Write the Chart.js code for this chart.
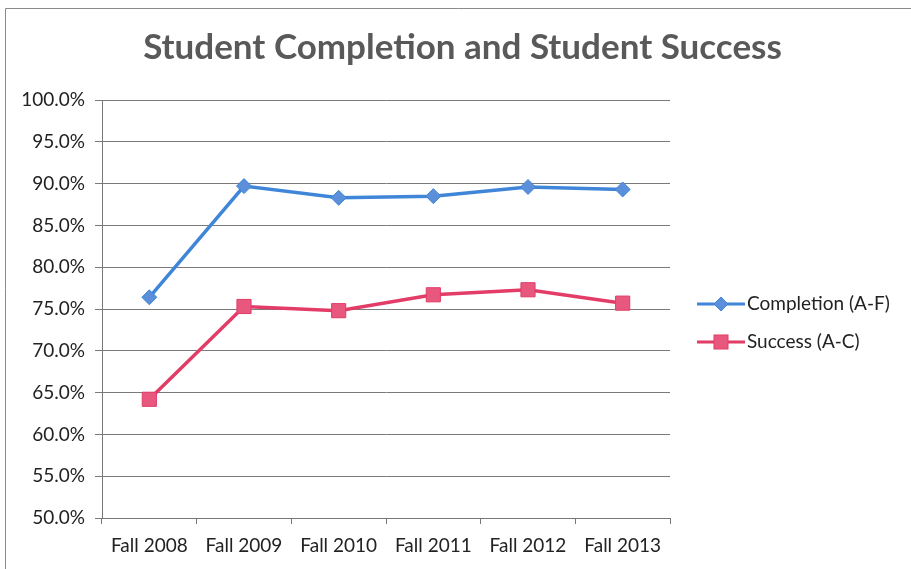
<!DOCTYPE html>
<html>
<head>
<meta charset="utf-8">
<script src="https://cdn.jsdelivr.net/npm/chart.js@4"></script>
<style>
  html, body { margin: 0; padding: 0; background: #fff; }
  #wrap { position: relative; width: 911px; height: 569px; }
</style>
</head>
<body>
<div id="wrap"><canvas id="chart" width="911" height="569"></canvas></div>
<script>
// Data
const categories = ["Fall 2008", "Fall 2009", "Fall 2010", "Fall 2011", "Fall 2012", "Fall 2013"];
const completion = [76.4, 89.7, 88.3, 88.5, 89.6, 89.3];
const success = [64.2, 75.3, 74.8, 76.7, 77.3, 75.7];
const seriesNames = ["Completion (A-F)", "Success (A-C)"];

const blueLine = "#3f86d8";
const blueMark = "#5b8fd9";
const redLine = "#e23c67";
const redMark = "#e8587e";
const FONT = "Lato, 'Open Sans', sans-serif";

// Excel-like legend on the right: short line with marker, then the name
const legendPlugin = {
    id: "sideLegend",
    afterDraw(chart) {
        const ctx = chart.ctx;
        const x0 = 697, rows = [304, 342];
        ctx.save();
        chart.data.datasets.forEach((ds, i) => {
            const y = rows[i];
            ctx.strokeStyle = ds.borderColor;
            ctx.lineWidth = 3;
            ctx.beginPath(); ctx.moveTo(x0, y); ctx.lineTo(x0 + 48, y); ctx.stroke();
            ctx.fillStyle = ds.backgroundColor;
            ctx.lineWidth = 1;
            const cx = x0 + 24;
            if (ds.pointStyle === "rectRot") {
                ctx.beginPath();
                ctx.moveTo(cx, y - 7); ctx.lineTo(cx + 7, y); ctx.lineTo(cx, y + 7); ctx.lineTo(cx - 7, y);
                ctx.closePath(); ctx.fill(); ctx.stroke();
            } else {
                ctx.fillRect(cx - 7, y - 7, 14, 14); ctx.strokeRect(cx - 7, y - 7, 14, 14);
            }
            ctx.fillStyle = "#222";
            ctx.font = "19px " + FONT;
            ctx.textBaseline = "middle";
            ctx.textAlign = "left";
            ctx.fillText(ds.label, x0 + 50, y);
        });
        ctx.restore();
    }
};

const borderPlugin = {
    id: "frame",
    afterDraw(chart) {
        const ctx = chart.ctx;
        ctx.save();
        ctx.strokeStyle = "#8a8a8a";
        ctx.lineWidth = 1;
        ctx.beginPath();
        ctx.moveTo(5.5, 569); ctx.lineTo(5.5, 8.5); ctx.lineTo(911, 8.5);
        ctx.stroke();
        ctx.restore();
    }
};

new Chart(document.getElementById("chart").getContext("2d"), {
    type: "line",
    data: {
        labels: categories,
        datasets: [{
            label: seriesNames[0],
            data: completion,
            borderColor: blueLine,
            backgroundColor: blueMark,
            borderWidth: 3.5,
            pointStyle: "rectRot",
            pointRadius: 7.5,
            pointBorderWidth: 1,
            pointBorderColor: blueLine,
            tension: 0
        }, {
            label: seriesNames[1],
            data: success,
            borderColor: redLine,
            backgroundColor: redMark,
            borderWidth: 3.5,
            pointStyle: "rect",
            pointRadius: 10,
            pointBorderWidth: 1,
            pointBorderColor: redLine,
            tension: 0
        }]
    },
    options: {
        responsive: false,
        animation: false,
        layout: { padding: { left: 14, right: 0, top: 0, bottom: 11 } },
        plugins: {
            title: {
                display: true,
                text: "Student Completion and Student Success",
                color: "#595959",
                font: { family: FONT, size: 35, weight: "bold", lineHeight: 1.2 },
                padding: { top: 27, bottom: 31 }
            },
            legend: { display: false },
            tooltip: { enabled: false }
        },
        scales: {
            x: {
                offset: true,
                afterFit(s) { s.height = 40; },
                grid: { display: true, drawOnChartArea: false, color: "#777", tickLength: 6, offset: true },
                border: { color: "#777" },
                ticks: { color: "#222", font: { family: FONT, size: 19 }, padding: 10, maxRotation: 0 }
            },
            y: {
                min: 50,
                max: 100,
                afterFit(s) { s.width = 88; },
                grid: { color: "#7a7a7a", tickLength: 7 },
                border: { color: "#777" },
                ticks: {
                    stepSize: 5,
                    color: "#222",
                    font: { family: FONT, size: 19 },
                    padding: 10,
                    callback: v => v.toFixed(1) + "%"
                }
            },
            // empty box on the right that keeps room for the legend
            legendRoom: {
                type: "linear",
                position: "right",
                afterFit(s) { s.width = 241; },
                grid: { display: false, drawTicks: false },
                border: { display: false },
                ticks: { display: false }
            }
        }
    },
    plugins: [borderPlugin, legendPlugin]
});
</script>
</body>
</html>
